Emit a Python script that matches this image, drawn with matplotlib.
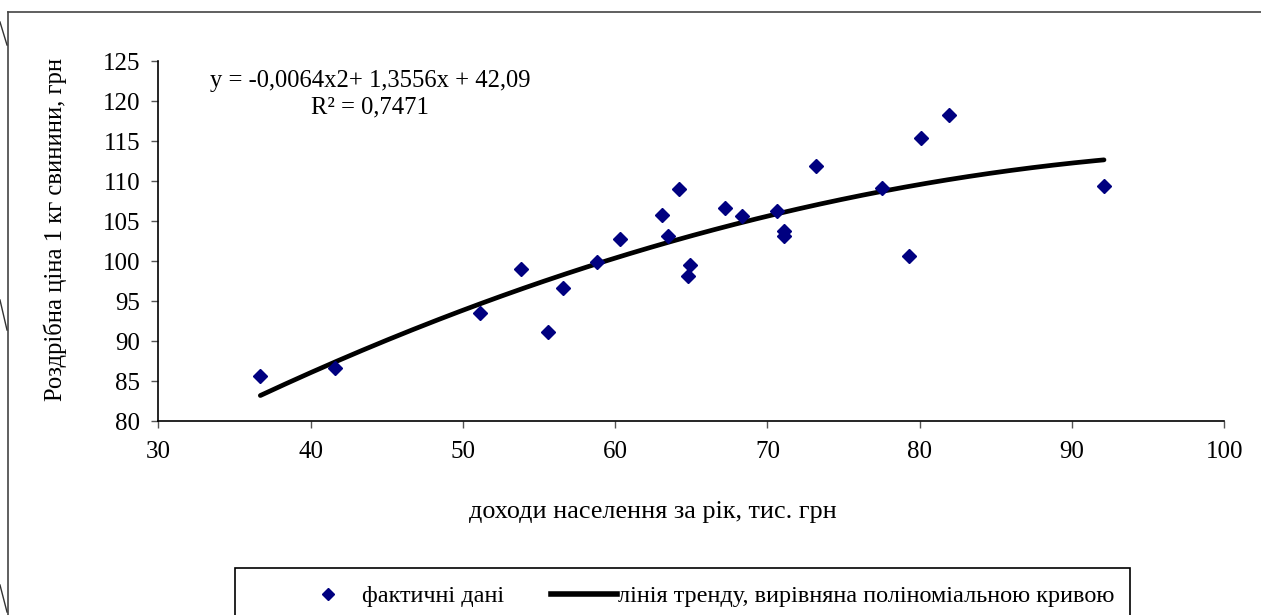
import numpy as np
import matplotlib
matplotlib.use("Agg")
import matplotlib.pyplot as plt
from matplotlib.patches import Rectangle
from matplotlib.lines import Line2D

plt.rcParams['font.family'] = ['Liberation Serif', 'DejaVu Serif']

# доходи населення (тис. грн) і роздрібна ціна (грн/кг)
income = [36.7, 41.6, 51.1, 53.8, 55.6, 56.6, 58.8, 60.3, 63.1, 63.5, 64.2, 64.8,
          64.9, 67.2, 68.3, 70.6, 71.1, 71.1, 73.2, 77.5, 79.3, 80.1, 81.9, 92.1]
price = [85.7, 86.6, 93.5, 99.0, 91.1, 96.7, 99.9, 102.8, 105.8, 103.2, 109.0, 98.1,
         99.5, 106.7, 105.6, 106.3, 103.8, 103.1, 111.9, 109.2, 100.6, 115.4, 118.2, 109.4]
trend_coef = [-0.0064, 1.3556, 42.09]
x_ticks = [30, 40, 50, 60, 70, 80, 90, 100]
y_ticks = [80, 85, 90, 95, 100, 105, 110, 115, 120, 125]

W, H = 1261, 615
fig = plt.figure(figsize=(W / 100, H / 100), dpi=100)
ax = fig.add_axes([158.3 / W, 1 - 421.3 / H, (1224.3 - 158.3) / W, (421.3 - 61) / H])

xs = np.linspace(min(income), max(income), 200)
ax.plot(xs, np.polyval(trend_coef, xs), color='black', lw=3.4, solid_capstyle='round', zorder=2)
ax.plot(income, price, linestyle='none', marker='D', markersize=7,
        color='#000080', zorder=3)

ax.set_xlim(30, 100)
ax.set_ylim(80, 125)
ax.set_xticks(x_ticks)
ax.set_yticks(y_ticks)
for s in ['top', 'right']:
    ax.spines[s].set_visible(False)
for s in ['left', 'bottom']:
    ax.spines[s].set_linewidth(1.2)
ax.tick_params(direction='out', length=5, width=1, color='#555555',
               labelsize=18, pad=8)
ax.tick_params(axis='x', pad=9)

fig.text(55 / W, 1 - 229 / H, 'Роздрібна ціна 1 кг свинини, грн', rotation=90,
         ha='center', va='center', fontsize=17.7)
fig.text(653 / W, 1 - 512 / H, 'доходи населення за рік, тис. грн',
         ha='center', va='center', fontsize=18.8)
fig.text(370 / W, 1 - 81 / H, 'y = -0,0064x2+ 1,3556x + 42,09',
         ha='center', va='center', fontsize=17.7)
fig.text(370 / W, 1 - 107 / H, 'R² = 0,7471',
         ha='center', va='center', fontsize=17.7)

# рамка легенди (обрізана знизу)
fig.patches.append(Rectangle((235 / W, -0.05), (1130 - 235) / W, 0.05 + (615 - 568) / H,
                             transform=fig.transFigure, fill=False,
                             edgecolor='black', lw=1.2))
handles = [Line2D([], [], linestyle='none', marker='D', markersize=6, color='#000080'),
           Line2D([], [], color='black', lw=4)]
fig.legend(handles, ['фактичні дані', 'лінія тренду, вирівняна поліноміальною кривою'],
           loc='center left', bbox_to_anchor=(295 / W, 1 - 596 / H), ncol=2,
           frameon=False, fontsize=17.5, handlelength=2.7, handletextpad=0.05,
           columnspacing=1.95, borderpad=0, borderaxespad=0)

# зовнішня рамка сторінки
fig.add_artist(Line2D([7.5 / W, 1], [1 - 12.3 / H] * 2, transform=fig.transFigure,
                      color='#444444', lw=1.2))
fig.add_artist(Line2D([7.5 / W] * 2, [0, 1 - 12.3 / H], transform=fig.transFigure,
                      color='#444444', lw=1.2))
for y0, y1 in [(22, 45), (300, 330), (585, 612)]:
    fig.add_artist(Line2D([0, 7 / W], [1 - y0 / H, 1 - y1 / H], transform=fig.transFigure,
                          color='#333333', lw=1.0))

fig.savefig('out.png', dpi=100)
